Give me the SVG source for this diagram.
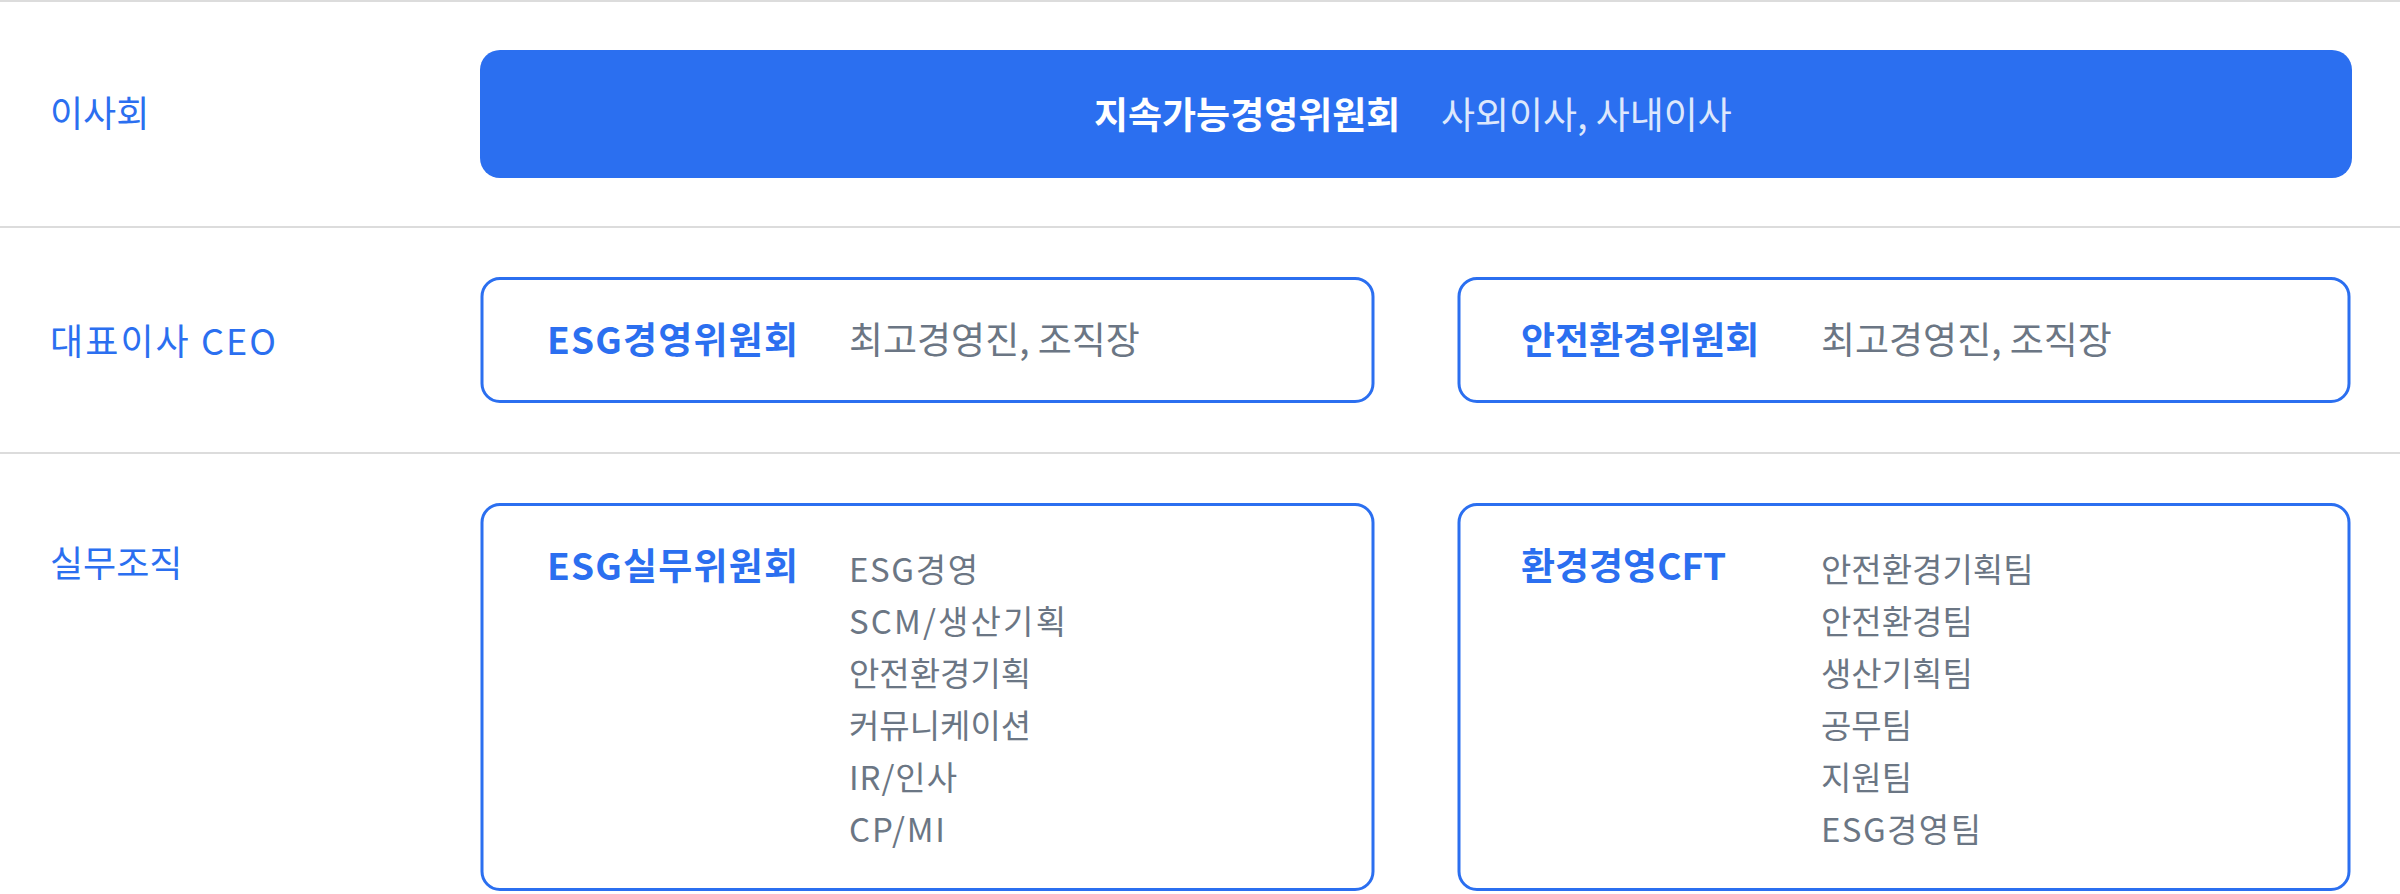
<svg xmlns="http://www.w3.org/2000/svg" width="2400" height="894" viewBox="0 0 2400 894">
  <style>
    text { font-family: "Noto Sans CJK KR", "Noto Sans", sans-serif; }
    .label { font-size: 36px; font-weight: 400; fill: #2b6ff0; }
    .title { font-size: 37px; font-weight: 700; fill: #2b6ff0; }
    .sub { font-size: 37px; font-weight: 400; fill: #6b7684; }
    .item { font-size: 33px; font-weight: 400; fill: #6b7684; }
    .box { fill: #ffffff; stroke: #2b6ff0; stroke-width: 3; }
    .sep { stroke: #dcdcdc; stroke-width: 2; }
  </style>
  <rect x="0" y="0" width="2400" height="894" fill="#ffffff"/>
  <g id="separators">
    <line class="sep" x1="0" y1="1" x2="2400" y2="1"/>
    <line class="sep" x1="0" y1="227" x2="2400" y2="227"/>
    <line class="sep" x1="0" y1="453" x2="2400" y2="453"/>
  </g>
  <g id="row-labels">
    <text class="label" x="50" y="127">이사회</text>
    <text class="label" x="50" y="355" textLength="226" lengthAdjust="spacing">대표이사 CEO</text>
    <text class="label" x="50" y="577">실무조직</text>
  </g>
  <g id="node-board">
    <rect x="480" y="50" width="1872" height="128" rx="20" fill="#2b6ff0"/>
    <text x="1094" y="129" font-size="37" font-weight="700" fill="#ffffff">지속가능경영위원회</text>
    <text x="1441" y="129" font-size="37" font-weight="400" fill="#dde7fc">사외이사, 사내이사</text>
  </g>
  <g id="node-esg-committee">
    <rect class="box" x="482" y="278.5" width="891" height="123" rx="18"/>
    <text class="title" x="547" y="354" textLength="251" lengthAdjust="spacing">ESG경영위원회</text>
    <text class="sub" x="849" y="354">최고경영진, 조직장</text>
  </g>
  <g id="node-safety-committee">
    <rect class="box" x="1459" y="278.5" width="890" height="123" rx="18"/>
    <text class="title" x="1521" y="354">안전환경위원회</text>
    <text class="sub" x="1821" y="354">최고경영진, 조직장</text>
  </g>
  <g id="node-esg-working">
    <rect class="box" x="482" y="504.5" width="891" height="385" rx="18"/>
    <text class="title" x="547" y="580" textLength="251" lengthAdjust="spacing">ESG실무위원회</text>
    <text class="item" x="849" y="582" textLength="129" lengthAdjust="spacing">ESG경영</text>
    <text class="item" x="849" y="634" textLength="217" lengthAdjust="spacing">SCM/생산기획</text>
    <text class="item" x="849" y="686">안전환경기획</text>
    <text class="item" x="849" y="738">커뮤니케이션</text>
    <text class="item" x="849" y="790" textLength="108" lengthAdjust="spacing">IR/인사</text>
    <text class="item" x="849" y="842" textLength="96" lengthAdjust="spacing">CP/MI</text>
  </g>
  <g id="node-env-cft">
    <rect class="box" x="1459" y="504.5" width="890" height="385" rx="18"/>
    <text class="title" x="1521" y="580">환경경영CFT</text>
    <text class="item" x="1821" y="582">안전환경기획팀</text>
    <text class="item" x="1821" y="634">안전환경팀</text>
    <text class="item" x="1821" y="686">생산기획팀</text>
    <text class="item" x="1821" y="738">공무팀</text>
    <text class="item" x="1821" y="790">지원팀</text>
    <text class="item" x="1821" y="842" textLength="160" lengthAdjust="spacing">ESG경영팀</text>
  </g>
  <g id="connectors"></g>
</svg>
